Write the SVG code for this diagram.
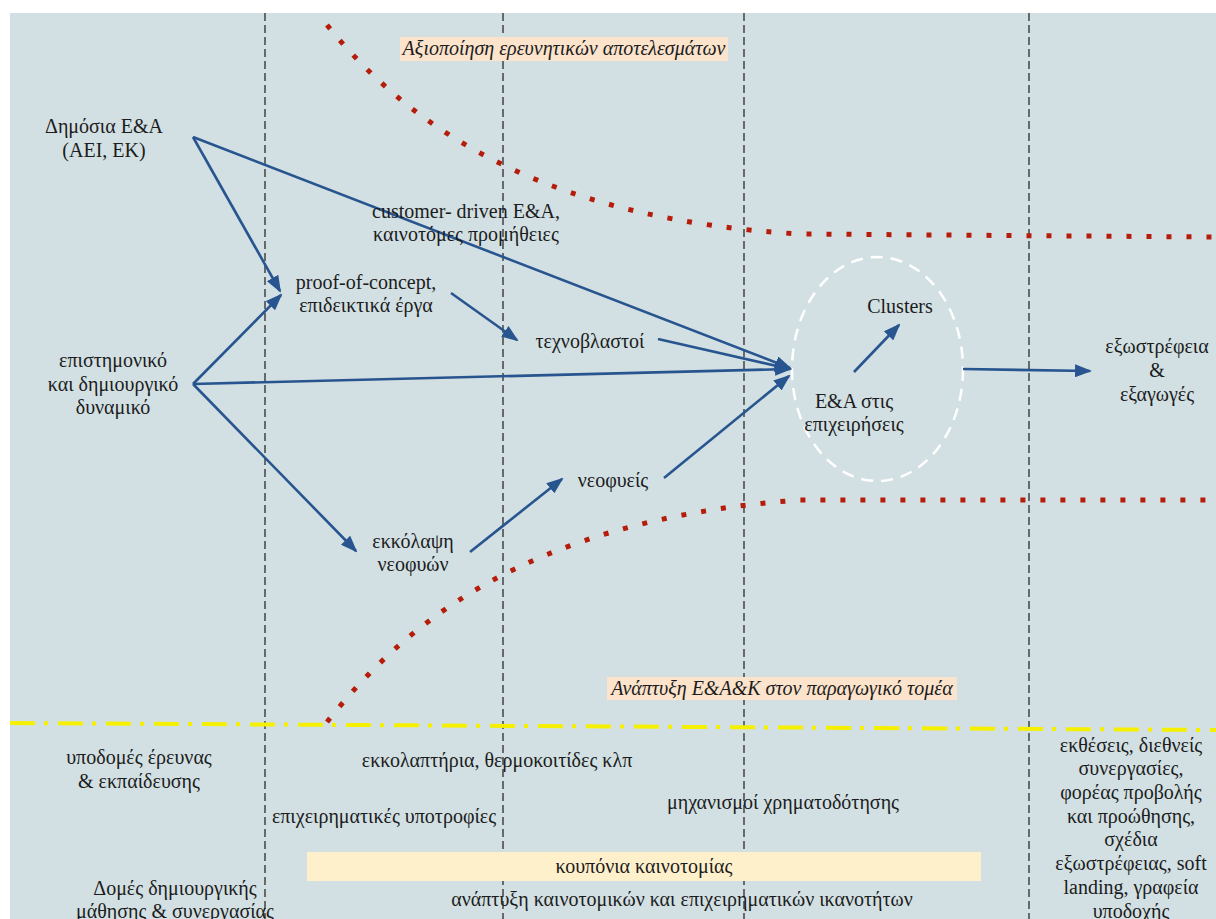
<svg xmlns="http://www.w3.org/2000/svg" width="1216" height="919" viewBox="0 0 1216 919">
<defs>
<style>
text{font-family:'Liberation Serif','Times New Roman',serif;font-size:20px;fill:#1c1c1c;text-anchor:middle}
.it{font-style:italic}
.vdash{stroke:#2b2b2b;stroke-width:1.3;stroke-dasharray:8 4;fill:none}
.conn{stroke:#28558f;stroke-width:2.6;fill:none;marker-end:url(#ah)}
.red{stroke:#b51c0a;stroke-width:5;stroke-dasharray:5 15;fill:none}
</style>
<marker id="ah" markerUnits="userSpaceOnUse" markerWidth="17" markerHeight="13" refX="15" refY="6.5" orient="auto">
<path d="M0,0 L17,6.5 L0,13 z" fill="#28558f"/>
</marker>
</defs>
<rect x="0" y="0" width="1216" height="919" fill="#ffffff"/>
<rect x="10" y="13" width="1206" height="906" fill="#d2e0e3"/>

<g id="columns">
<line class="vdash" x1="265" y1="13" x2="265" y2="919"/>
<line class="vdash" x1="503" y1="13" x2="503" y2="919"/>
<line class="vdash" x1="744" y1="13" x2="744" y2="919"/>
<line class="vdash" x1="1029" y1="13" x2="1029" y2="919"/>
</g>

<g id="boundaries">
<path class="red" d="M327,25 C420,140 560,220 800,234 L1216,237"/>
<path class="red" d="M327,722 C400,630 520,520 800,500 L1216,500"/>
<line x1="10" y1="723" x2="1216" y2="730" stroke="#f5ef00" stroke-width="4" stroke-dasharray="25 9 4 10"/>
</g>

<g id="label-axiopoiisi">
<rect x="400" y="37" width="328" height="24" fill="#fbe3cc"/>
<text class="it" x="564" y="55">Αξιοποίηση ερευνητικών αποτελεσμάτων</text>
</g>
<g id="label-anaptyxi">
<rect x="607" y="677" width="350" height="23" fill="#fbe3cc"/>
<text class="it" x="782" y="695">Ανάπτυξη E&amp;A&amp;K στον παραγωγικό τομέα</text>
</g>

<g id="cluster-ellipse">
<ellipse cx="877.5" cy="369" rx="85.5" ry="112" fill="none" stroke="#ffffff" stroke-width="2.5" stroke-dasharray="12 8"/>
</g>

<g id="connectors">
<line class="conn" x1="193" y1="137" x2="280" y2="291"/>
<line class="conn" x1="193" y1="137" x2="790" y2="368"/>
<line class="conn" x1="193" y1="384" x2="281" y2="295"/>
<line class="conn" x1="193" y1="384" x2="790" y2="369"/>
<line class="conn" x1="193" y1="384" x2="356" y2="551"/>
<line class="conn" x1="451" y1="293" x2="517" y2="340"/>
<line class="conn" x1="658" y1="339" x2="790" y2="369"/>
<line class="conn" x1="470" y1="552" x2="562" y2="479"/>
<line class="conn" x1="664" y1="478" x2="789" y2="376"/>
<line class="conn" x1="854" y1="372" x2="899" y2="325"/>
<line class="conn" x1="963" y1="369" x2="1090" y2="371"/>
</g>

<g id="node-dimosia"><text x="104" y="133">Δημόσια E&amp;A</text><text x="104" y="157">(AEI, EK)</text></g>
<g id="node-epistimoniko"><text x="113" y="367">επιστημονικό</text><text x="113" y="391">και δημιουργικό</text><text x="113" y="414">δυναμικό</text></g>
<g id="node-customer"><text x="466" y="218">customer- driven E&amp;A,</text><text x="466" y="241">καινοτόμες προμήθειες</text></g>
<g id="node-proof"><text x="366" y="289">proof-of-concept,</text><text x="366" y="312">επιδεικτικά έργα</text></g>
<g id="node-technovlastoi"><text x="590" y="348">τεχνοβλαστοί</text></g>
<g id="node-ekkolapsi"><text x="413" y="548">εκκόλαψη</text><text x="413" y="571">νεοφυών</text></g>
<g id="node-neofyeis"><text x="613" y="487">νεοφυείς</text></g>
<g id="node-clusters"><text x="900" y="313">Clusters</text></g>
<g id="node-ea"><text x="854" y="408">E&amp;A στις</text><text x="854" y="431">επιχειρήσεις</text></g>
<g id="node-exostrefeia"><text x="1157" y="353">εξωστρέφεια</text><text x="1157" y="377">&amp;</text><text x="1157" y="401">εξαγωγές</text></g>

<g id="tool-ypodomes"><text x="139" y="764">υποδομές έρευνας</text><text x="139" y="788">&amp; εκπαίδευσης</text></g>
<g id="tool-domes"><text x="175" y="895">Δομές δημιουργικής</text><text x="175" y="918">μάθησης &amp; συνεργασίας</text></g>
<g id="tool-ekkolaptiria"><text x="497" y="767">εκκολαπτήρια, θερμοκοιτίδες κλπ</text></g>
<g id="tool-ypotrofies"><text x="384" y="823">επιχειρηματικές υποτροφίες</text></g>
<g id="tool-mixanismoi"><text x="783" y="809">μηχανισμοί χρηματοδότησης</text></g>
<g id="tool-kouponia"><rect x="307" y="852" width="674" height="29" fill="#fff0cc"/><text x="644" y="873">κουπόνια καινοτομίας</text></g>
<g id="tool-anaptyxi"><text x="682" y="906">ανάπτυξη καινοτομικών και επιχειρηματικών ικανοτήτων</text></g>
<g id="tool-ektheseis">
<text x="1131" y="752">εκθέσεις, διεθνείς</text>
<text x="1131" y="775">συνεργασίες,</text>
<text x="1131" y="799">φορέας προβολής</text>
<text x="1131" y="823">και προώθησης,</text>
<text x="1131" y="846">σχέδια</text>
<text x="1131" y="870">εξωστρέφειας, soft</text>
<text x="1131" y="894">landing, γραφεία</text>
<text x="1131" y="918">υποδοχής</text>
</g>
</svg>
